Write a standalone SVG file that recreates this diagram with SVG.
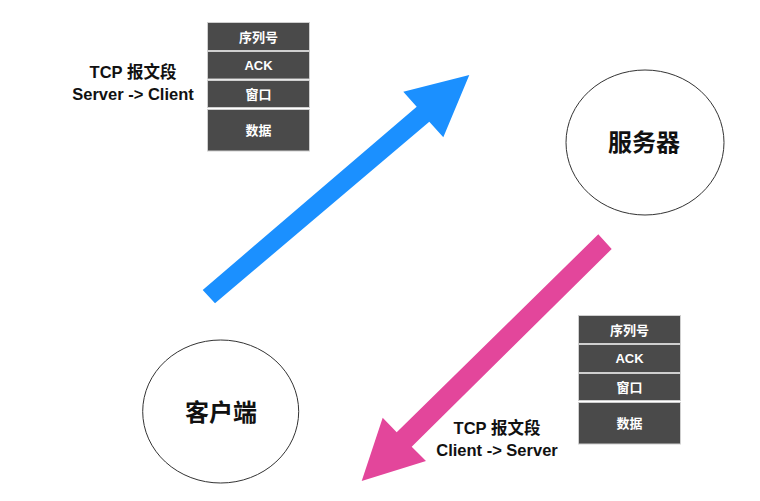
<svg xmlns="http://www.w3.org/2000/svg" width="760" height="501" viewBox="0 0 760 501">
<style>
text{font-family:"Liberation Sans","Noto Sans CJK SC",sans-serif;font-weight:bold;text-anchor:middle}
.node{fill:#ffffff;stroke:#333333;stroke-width:1}
.nodeText{font-size:24px;fill:#111111}
.cell{fill:#4a4a4a;stroke:#cfcfcf;stroke-width:1}
.cellText{font-size:13px;fill:#ffffff}
.label{font-size:16.5px;fill:#111111}
</style>
<rect width="760" height="501" fill="#ffffff"/>
<g id="connectors">
<polygon id="arrow-up" fill="#1B90FF" points="202.7,290 416.7,106.7 403.3,91.7 469.3,75 443.3,137.3 429.3,121.7 215,303.3"/>
<polygon id="arrow-down" fill="#E3469B" points="598.3,234.3 611.7,249 411.7,446.7 426,461 361.7,481 382.7,417.7 396.7,432.3"/>
</g>
<g id="server">
<ellipse class="node" cx="645" cy="142.5" rx="79" ry="72.5"/>
<text class="nodeText" x="644" y="151">服务器</text>
</g>
<g id="client">
<ellipse class="node" cx="220.7" cy="411.5" rx="78" ry="71.5"/>
<text class="nodeText" x="221" y="421">客户端</text>
</g>
<g id="packet-server-client">
<rect class="cell" x="207.5" y="22.5" width="102" height="28"/>
<rect class="cell" x="207.5" y="51.5" width="102" height="27.5"/>
<rect class="cell" x="207.5" y="80.5" width="102" height="27"/>
<rect class="cell" x="207.5" y="109.5" width="102" height="41.5"/>
<text class="cellText" x="258.5" y="42">序列号</text>
<text class="cellText" x="258.5" y="70">ACK</text>
<text class="cellText" x="258.5" y="98.5">窗口</text>
<text class="cellText" x="258.5" y="135">数据</text>
</g>
<g id="label-server-client">
<text class="label" x="133" y="78">TCP 报文段</text>
<text class="label" x="133" y="100">Server -&gt; Client</text>
</g>
<g id="packet-client-server">
<rect class="cell" x="578.5" y="315.5" width="102" height="28"/>
<rect class="cell" x="578.5" y="344.5" width="102" height="28"/>
<rect class="cell" x="578.5" y="373.5" width="102" height="27"/>
<rect class="cell" x="578.5" y="402.5" width="102" height="41.5"/>
<text class="cellText" x="629.5" y="335">序列号</text>
<text class="cellText" x="629.5" y="363">ACK</text>
<text class="cellText" x="629.5" y="391.5">窗口</text>
<text class="cellText" x="629.5" y="428">数据</text>
</g>
<g id="label-client-server">
<text class="label" x="497" y="434">TCP 报文段</text>
<text class="label" x="497" y="456">Client -&gt; Server</text>
</g>
</svg>
